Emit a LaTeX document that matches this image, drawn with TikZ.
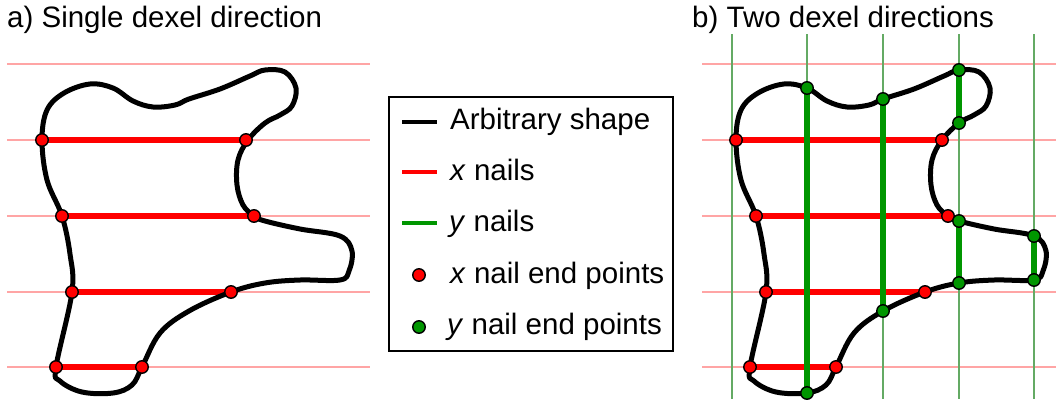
\documentclass[tikz,border=0pt]{standalone}
\usepackage{fontspec}
\setmainfont{Liberation Sans}
\definecolor{nailred}{RGB}{255,0,0}
\definecolor{nailgreen}{RGB}{0,150,0}
\definecolor{faintred}{RGB}{255,165,165}
\definecolor{faintgreen}{RGB}{100,170,100}
\tikzset{
  shapeline/.style={line width=5pt, black, line join=round},
  xnail/.style={line width=5.5pt, nailred},
  ynail/.style={line width=5.5pt, nailgreen},
  rowline/.style={line width=2.5pt, faintred},
  colline/.style={line width=2.5pt, faintgreen},
  rdot/.style={circle, draw=black, line width=1.4pt, fill=nailred, minimum size=12.5pt, inner sep=0pt},
  gdot/.style={circle, draw=black, line width=1.4pt, fill=nailgreen, minimum size=12.5pt, inner sep=0pt},
  txt/.style={font=\fontsize{29.5}{34}\selectfont, inner sep=0pt, anchor=base west},
  blob/.pic={
    \draw[shapeline] plot[smooth cycle, tension=0.6] coordinates {
      (42,140) (47,110) (64,93) (90,84) (113,88) (133,101) (153,107) (175,105)
      (189,99) (220,89) (250,76) (265,70) (285,72) (296,88) (292,106) (280,115)
      (265,123) (248,140) (238,160) (237,185) (243,205) (254,216) (265,221)
      (300,229) (340,236) (352,251) (349,271) (340,280) (300,280) (265,283)
      (231,292) (189,311) (160,333) (142,367) (132,385) (113,393) (82,392)
      (60,381) (56,367) (72,292) (70,254) (62,216) (47,180)};
  }
}
\begin{document}
\begin{tikzpicture}[x=1pt,y=-1pt]
\useasboundingbox (0,0) rectangle (1056,399);

% titles
\node[txt] (ta) at (7,27) {a) Single dexel direction};
\node[txt] (tb) at (692,27) {b) Two dexel directions};

% ---------- panel a ----------
\foreach \yy in {64,140,216,292,367} {
  \coordinate (la\yy) at (7,\yy);
  \coordinate (ra\yy) at (370,\yy);
  \draw[rowline] (la\yy) -- (ra\yy);
}
\coordinate (a1l) at (42,140);  \coordinate (a1r) at (246,140);
\coordinate (a2l) at (62,216);  \coordinate (a2r) at (254,216);
\coordinate (a3l) at (72,292);  \coordinate (a3r) at (231,292);
\coordinate (a4l) at (56,367);  \coordinate (a4r) at (142,367);
\foreach \i in {1,2,3,4} { \draw[xnail] (a\i l) -- (a\i r); }
\pic at (0,0) {blob};
\foreach \i in {1,2,3,4} {
  \node[rdot] (da\i l) at (a\i l) {};
  \node[rdot] (da\i r) at (a\i r) {};
}

% ---------- panel b ----------
\begin{scope}[shift={(694,0)}]
\foreach \yy in {64,140,216,292,367} {
  \coordinate (lb\yy) at (8,\yy);
  \coordinate (rb\yy) at (362,\yy);
  \draw[rowline] (lb\yy) -- (rb\yy);
}
\foreach \xx in {38,113,189,265,340} {
  \coordinate (tb\xx) at (\xx,34);
  \coordinate (bb\xx) at (\xx,399);
  \draw[colline] (tb\xx) -- (bb\xx);
}
\coordinate (b1l) at (42,140);  \coordinate (b1r) at (248,140);
\coordinate (b2l) at (62,216);  \coordinate (b2r) at (254,216);
\coordinate (b3l) at (72,292);  \coordinate (b3r) at (231,292);
\coordinate (b4l) at (56,367);  \coordinate (b4r) at (142,367);
\foreach \i in {1,2,3,4} { \draw[xnail] (b\i l) -- (b\i r); }
\coordinate (g1t) at (113,88);  \coordinate (g1b) at (113,393);
\coordinate (g2t) at (189,99);  \coordinate (g2b) at (189,311);
\coordinate (g3t) at (265,70);  \coordinate (g3b) at (265,123);
\coordinate (g4t) at (265,221); \coordinate (g4b) at (265,283);
\coordinate (g5t) at (340,236); \coordinate (g5b) at (340,280);
\foreach \i in {1,2,3,4,5} { \draw[ynail] (g\i t) -- (g\i b); }
\pic at (0,0) {blob};
\foreach \i in {1,2,3,4} {
  \node[rdot] (db\i l) at (b\i l) {};
  \node[rdot] (db\i r) at (b\i r) {};
}
\foreach \i in {1,2,3,4,5} {
  \node[gdot] (dg\i t) at (g\i t) {};
  \node[gdot] (dg\i b) at (g\i b) {};
}
\end{scope}

% ---------- legend ----------
\node[draw=black, line width=2pt, minimum width=284pt, minimum height=254pt, inner sep=0pt, anchor=north west] (legend) at (388,96) {};
\coordinate (k1a) at (402,122); \coordinate (k1b) at (437,122);
\coordinate (k2a) at (402,172); \coordinate (k2b) at (437,172);
\coordinate (k3a) at (402,223); \coordinate (k3b) at (437,223);
\draw[line width=4.5pt, black] (k1a) -- (k1b);
\draw[line width=4.5pt, nailred] (k2a) -- (k2b);
\draw[line width=4.5pt, nailgreen] (k3a) -- (k3b);
\node[rdot] (k4) at (419,275) {};
\node[gdot] (k5) at (419,327) {};
\node[txt] (l1) at (450,129) {Arbitrary shape};
\node[txt] (l2) at (450,180) {\textit{x} nails};
\node[txt] (l3) at (449,231) {\textit{y} nails};
\node[txt] (l4) at (450,283) {\textit{x} nail end points};
\node[txt] (l5) at (447,334) {\textit{y} nail end points};
\end{tikzpicture}
\end{document}
